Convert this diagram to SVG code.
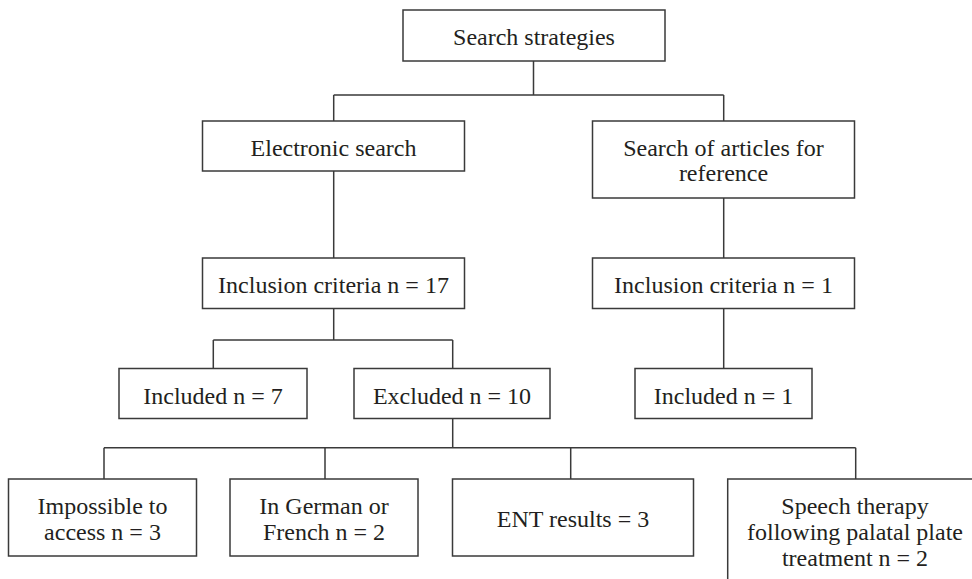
<svg xmlns="http://www.w3.org/2000/svg" width="972" height="579" viewBox="0 0 972 579">
<style>
  .box { fill: #ffffff; stroke: #3a3a3a; stroke-width: 1.5; }
  .conn { fill: none; stroke: #3a3a3a; stroke-width: 1.5; }
  text { font-family: "Liberation Serif", "Times New Roman", serif; font-size: 24px; fill: #231f20; text-anchor: middle; }
</style>
<rect x="0" y="0" width="972" height="579" fill="#ffffff"/>
<g id="connectors">
  <path class="conn" d="M533.5,61 V95 M333.7,95 H723.7 M333.7,95 V121 M723.7,95 V121"/>
  <path class="conn" d="M333.7,171 V258 M723.7,198 V258"/>
  <path class="conn" d="M333.7,308.5 V340 M213.3,340 H452.7 M213.3,340 V368.5 M452.7,340 V368.5"/>
  <path class="conn" d="M723.7,308.5 V368.5"/>
  <path class="conn" d="M452.7,418.5 V447.7 M104,447.7 H855.7 M104,447.7 V479 M325,447.7 V479 M570.7,447.7 V479 M855.7,447.7 V479"/>
</g>
<g id="search-strategies">
  <rect class="box" x="403" y="10" width="262" height="51"/>
  <text x="534" y="45">Search strategies</text>
</g>
<g id="electronic-search">
  <rect class="box" x="202.5" y="121" width="262" height="50"/>
  <text x="333.5" y="156">Electronic search</text>
</g>
<g id="search-articles">
  <rect class="box" x="592.5" y="121" width="262" height="77"/>
  <text x="723.5" y="155.5">Search of articles for</text>
  <text x="723.5" y="181">reference</text>
</g>
<g id="inclusion-17">
  <rect class="box" x="202.5" y="258" width="262" height="50.5"/>
  <text x="333.5" y="293.3">Inclusion criteria n = 17</text>
</g>
<g id="inclusion-1">
  <rect class="box" x="592.5" y="258" width="262" height="50.5"/>
  <text x="723.5" y="293.3">Inclusion criteria n = 1</text>
</g>
<g id="included-7">
  <rect class="box" x="119" y="368.5" width="188" height="50"/>
  <text x="213" y="403.5">Included n = 7</text>
</g>
<g id="excluded-10">
  <rect class="box" x="354" y="368.5" width="196" height="50"/>
  <text x="452" y="403.5">Excluded n = 10</text>
</g>
<g id="included-1">
  <rect class="box" x="635" y="368.5" width="177" height="50"/>
  <text x="723.5" y="403.5">Included n = 1</text>
</g>
<g id="impossible-access">
  <rect class="box" x="8.5" y="479" width="188" height="77"/>
  <text x="102.5" y="514">Impossible to</text>
  <text x="102.5" y="539.5">access n = 3</text>
</g>
<g id="german-french">
  <rect class="box" x="230" y="479" width="188" height="77"/>
  <text x="324" y="514">In German or</text>
  <text x="324" y="539.5">French n = 2</text>
</g>
<g id="ent-results">
  <rect class="box" x="452.5" y="479" width="241" height="77"/>
  <text x="573" y="526.7">ENT results = 3</text>
</g>
<g id="speech-therapy">
  <rect class="box" x="727.7" y="479" width="260" height="120"/>
  <text x="855" y="513.5">Speech therapy</text>
  <text x="855" y="539.5">following palatal plate</text>
  <text x="855" y="566">treatment n = 2</text>
</g>
</svg>
